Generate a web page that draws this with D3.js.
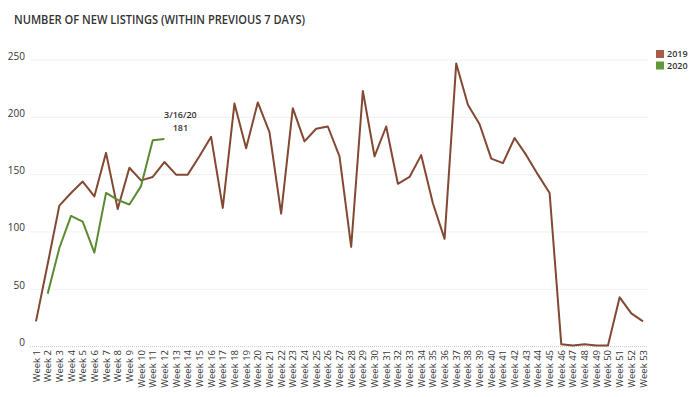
<!DOCTYPE html>
<html>
<head>
<meta charset="utf-8">
<script src="https://cdn.jsdelivr.net/npm/d3@7"></script>
<style>
  body { margin: 0; background: #fff; }
  text { font-family: "Open Sans", sans-serif; }
</style>
</head>
<body>
<svg width="700" height="397"></svg>
<script>

// values
var weeks = d3.range(1, 54).map(function(n) { return "Week " + n; });

var listings2019 = [22, 72, 123, 134, 144, 131, 169, 120, 156, 145, 148, 161, 150, 150, 166, 183, 121, 212,
  173, 213, 187, 116, 208, 179, 190, 192, 166, 87, 223, 166, 192, 142, 148, 167, 125, 94, 247, 211,
  194, 164, 160, 182, 167, 150, 134, 2, 1, 2, 1, 1, 43, 29, 22];

var listings2020 = [null, 46, 86, 114, 109, 82, 134, 128, 124, 140, 180, 181];

var yTicks = [0, 50, 100, 150, 200, 250];
var seriesNames = ["2019", "2020"];
var swatchColors = ["#a65d47", "#5e9a3a"];
var lineColors = ["#834832", "#5a8a31"];

var svg = d3.select("svg");

var x = d3.scalePoint()
    .domain(weeks)
    .range([36, 643]);

var y = d3.scaleLinear()
    .domain([0, 250])
    .range([346.6, 60]);

// title
svg.append("text")
    .attr("x", 14)
    .attr("y", 24)
    .attr("fill", "#333")
    .attr("font-size", 12)
    .attr("font-weight", 600)
    .attr("textLength", 291)
    .attr("lengthAdjust", "spacingAndGlyphs")
    .text("NUMBER OF NEW LISTINGS (WITHIN PREVIOUS 7 DAYS)");

// gridlines
svg.append("g")
  .selectAll("line")
  .data(yTicks.filter(function(d) { return d > 0; }))
  .enter().append("line")
    .attr("x1", 30)
    .attr("x2", 648)
    .attr("y1", function(d) { return y(d); })
    .attr("y2", function(d) { return y(d); })
    .attr("stroke", "#f0f0f0")
    .attr("stroke-width", 1);

// baseline
svg.append("line")
    .attr("x1", 30)
    .attr("x2", 648)
    .attr("y1", y(0))
    .attr("y2", y(0))
    .attr("stroke", "#c8c8c8")
    .attr("stroke-dasharray", "1,1");

// y axis labels
svg.append("g")
  .selectAll("text")
  .data(yTicks)
  .enter().append("text")
    .attr("x", 25)
    .attr("y", function(d) { return y(d) - 4; })
    .attr("dy", "0.35em")
    .attr("text-anchor", "end")
    .attr("font-size", 10)
    .attr("fill", "#333")
    .text(function(d) { return d; });

// x axis labels
svg.append("g")
  .selectAll("text")
  .data(weeks)
  .enter().append("text")
    .attr("transform", function(d) { return "translate(" + (x(d) + 3.5) + ",350) rotate(-90)"; })
    .attr("text-anchor", "end")
    .attr("font-size", 9.5)
    .attr("fill", "#333")
    .text(function(d) { return d; });

var line = d3.line()
    .defined(function(d) { return d != null; })
    .x(function(d, i) { return x(weeks[i]); })
    .y(function(d) { return y(d); });

svg.append("path")
    .datum(listings2019)
    .attr("fill", "none")
    .attr("stroke", lineColors[0])
    .attr("stroke-width", 2)
    .attr("stroke-linejoin", "round")
    .attr("d", line);

svg.append("path")
    .datum(listings2020)
    .attr("fill", "none")
    .attr("stroke", lineColors[1])
    .attr("stroke-width", 2)
    .attr("stroke-linejoin", "round")
    .attr("d", line);

// annotation at last 2020 point
var lastI = listings2020.length - 1;
var ann = svg.append("g")
    .attr("font-size", 9)
    .attr("font-weight", 600)
    .attr("fill", "#333")
    .attr("text-anchor", "middle");
ann.append("text")
    .attr("x", x(weeks[lastI]) + 16)
    .attr("y", y(listings2020[lastI]) - 21)
    .text("3/16/20");
ann.append("text")
    .attr("x", x(weeks[lastI]) + 16)
    .attr("y", y(listings2020[lastI]) - 8.5)
    .text(listings2020[lastI]);

// legend
var legend = svg.append("g")
    .attr("transform", "translate(656,50)");

var items = legend.selectAll("g")
    .data(seriesNames)
    .enter().append("g")
    .attr("transform", function(d, i) { return "translate(0," + (i * 11.5) + ")"; });

items.append("rect")
    .attr("width", 8)
    .attr("height", 8)
    .attr("fill", function(d, i) { return swatchColors[i]; });

items.append("text")
    .attr("x", 11)
    .attr("y", 4)
    .attr("dy", "0.35em")
    .attr("font-size", 9)
    .attr("font-weight", 600)
    .attr("fill", "#333")
    .text(function(d) { return d; });

</script>
</body>
</html>
